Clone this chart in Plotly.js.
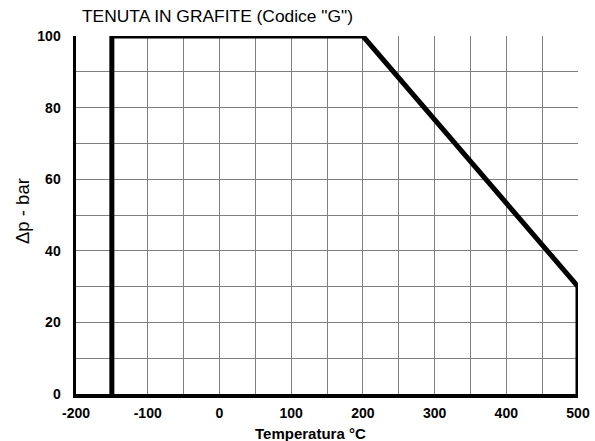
<!DOCTYPE html>
<html>
<head>
<meta charset="utf-8">
<script src="https://cdn.plot.ly/plotly-3.0.1.min.js"></script>
<style>html,body{margin:0;padding:0;background:#fff;}</style>
</head>
<body>
<div id="chart" style="width:595px;height:441px;"></div>
<script>
const temperature = [-150, -150, 200, 500, 500];
const deltaP = [0, 100, 100, 30, 0];
const xTickVals = [-200, -100, 0, 100, 200, 300, 400, 500];
const xTickText = ['-200', '-100', '0', '100', '200', '300', '400', '500'];
const yTickVals = [0, 20, 40, 60, 80, 100];
const yTickText = ['0', '20', '40', '60', '80', '100'];

const trace = {
  x: temperature,
  y: deltaP,
  mode: 'lines',
  line: {color: '#000', width: 5},
  hoverinfo: 'none'
};

const tickFont = {size: 14, color: '#000', family: 'Liberation Sans, Arial, sans-serif', weight: 'bold'};

const layout = {
  width: 595, height: 441,
  margin: {l: 76, r: 17, t: 36, b: 47},
  paper_bgcolor: '#fff', plot_bgcolor: '#fff',
  showlegend: false,
  font: {family: 'Liberation Sans, Arial, sans-serif', color: '#000'},
  title: {
    text: 'TENUTA IN GRAFITE (Codice "G")',
    font: {size: 17.4, color: '#000'},
    x: 82 / 595, xref: 'container', xanchor: 'left', yref: 'container', y: 1 - 16 / 441, yanchor: 'middle'
  },
  xaxis: {
    range: [-200, 500],
    tickvals: xTickVals,
    ticktext: xTickText,
    ticks: '',
    ticklabelstandoff: 4,
    showgrid: true, gridcolor: '#808080', gridwidth: 1,
    minor: {dtick: 50, tick0: -200, showgrid: true, gridcolor: '#808080', gridwidth: 1, ticks: ''},
    zeroline: false,
    showline: true, linecolor: '#000', linewidth: 3.5,
    tickfont: tickFont,
    fixedrange: true
  },
  yaxis: {
    range: [0, 100],
    tickvals: yTickVals,
    ticktext: yTickText,
    ticks: '',
    ticklabelstandoff: 9,
    showgrid: true, gridcolor: '#808080', gridwidth: 1,
    minor: {dtick: 10, tick0: 0, showgrid: true, gridcolor: '#808080', gridwidth: 1, ticks: ''},
    zeroline: false,
    showline: true, linecolor: '#000', linewidth: 3.5,
    tickfont: tickFont,
    fixedrange: true
  },
  annotations: [{
    text: '<b>Temperatura °C</b>',
    xref: 'paper', yref: 'paper',
    x: (310 - 76) / 502, y: -(433 - 394) / 358,
    xanchor: 'center', yanchor: 'middle',
    showarrow: false,
    font: {size: 15, color: '#000'}
  }, {
    text: 'Δp - bar',
    xref: 'paper', yref: 'paper',
    x: -(76 - 22) / 502, y: (394 - 211) / 358,
    xanchor: 'center', yanchor: 'middle',
    textangle: -90,
    showarrow: false,
    font: {size: 18.5, color: '#000'}
  }]
};

Plotly.newPlot('chart', [trace], layout, {displayModeBar: false, staticPlot: true});
</script>
</body>
</html>
